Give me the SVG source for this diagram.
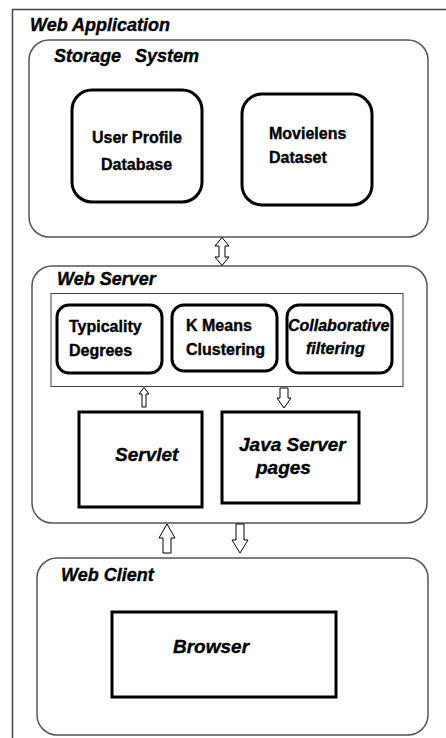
<svg xmlns="http://www.w3.org/2000/svg" width="446" height="738" viewBox="0 0 446 738">
<style>
text{font-family:"Liberation Sans",Arial,sans-serif;font-weight:bold;fill:#000;stroke:#000;stroke-width:0.35}
.t{font-size:18px;font-style:italic}
.n{font-size:16px}
.ni{font-size:16px;font-style:italic}
.b{font-size:19px;font-style:italic}
.cont{fill:none;stroke:#555;stroke-width:1.5}
.node{fill:#fff;stroke:#000;stroke-width:3}
.arr{fill:#fff;stroke:#000;stroke-width:1}
</style>
<rect width="446" height="738" fill="#fff"/>
<g id="web-application">
<path d="M12.5,738 L12.5,9.5 L446,9.5" fill="none" stroke="#444" stroke-width="1.5"/>
<text class="t" x="30" y="31">Web Application</text>
</g>
<g id="storage-system">
<rect class="cont" x="29" y="40" width="399" height="197" rx="20"/>
<text class="t" x="54" y="62">Storage <tspan x="135">System</tspan></text>
</g>
<g id="user-profile-db">
<rect class="node" x="72" y="90" width="130" height="112" rx="20"/>
<text class="n" x="92" y="143">User Profile</text>
<text class="n" x="101" y="170">Database</text>
</g>
<g id="movielens">
<rect class="node" x="242" y="94" width="130" height="111" rx="20"/>
<text class="n" x="269" y="139">Movielens</text>
<text class="n" x="269" y="163">Dataset</text>
</g>
<g id="web-server">
<rect class="cont" x="32" y="266" width="395" height="257" rx="20"/>
<text class="t" x="57" y="285">Web Server</text>
</g>
<g id="algorithms">
<rect x="51" y="293.5" width="352" height="93" fill="none" stroke="#444" stroke-width="1"/>
</g>
<g id="typicality">
<rect class="node" x="57" y="305" width="105" height="68" rx="12"/>
<text class="n" x="69" y="332">Typicality</text>
<text class="n" x="69" y="356">Degrees</text>
</g>
<g id="kmeans">
<rect class="node" x="172" y="305" width="105" height="66" rx="12"/>
<text class="n" x="186" y="331">K Means</text>
<text class="n" x="186" y="355">Clustering</text>
</g>
<g id="collaborative">
<rect class="node" x="287" y="305" width="105" height="68" rx="12"/>
<text class="ni" x="288" y="331">Collaborative</text>
<text class="ni" x="306" y="354">filtering</text>
</g>
<g id="servlet">
<rect class="node" x="79" y="412" width="123" height="95"/>
<text class="b" x="115" y="461">Servlet</text>
</g>
<g id="jsp">
<rect class="node" x="222" y="412" width="137" height="91"/>
<text class="b" x="239" y="451">Java Server</text>
<text class="b" x="256" y="474">pages</text>
</g>
<g id="web-client">
<rect class="cont" x="37" y="558" width="391" height="177" rx="20"/>
<text class="t" x="61" y="581">Web Client</text>
</g>
<g id="browser">
<rect class="node" x="112" y="612" width="224" height="85"/>
<text class="b" x="173" y="653">Browser</text>
</g>
<g id="connectors">
<path class="arr" d="M222,237.5 L229,246 L225,246 L225,257 L229,257 L222,265.5 L215,257 L219,257 L219,246 L215,246 Z"/>
<path class="arr" d="M144,387.5 L149,394 L146,394 L146,407 L142,407 L142,394 L139,394 Z"/>
<path class="arr" d="M280,388 L288,388 L288,398 L291,398 L284,408 L277,398 L280,398 Z"/>
<path class="arr" d="M167,524 L175,538 L171,538 L171,553 L163,553 L163,538 L159,538 Z"/>
<path class="arr" d="M236,524 L244,524 L244,540 L248,540 L240,553 L232,540 L236,540 Z"/>
</g>
</svg>
